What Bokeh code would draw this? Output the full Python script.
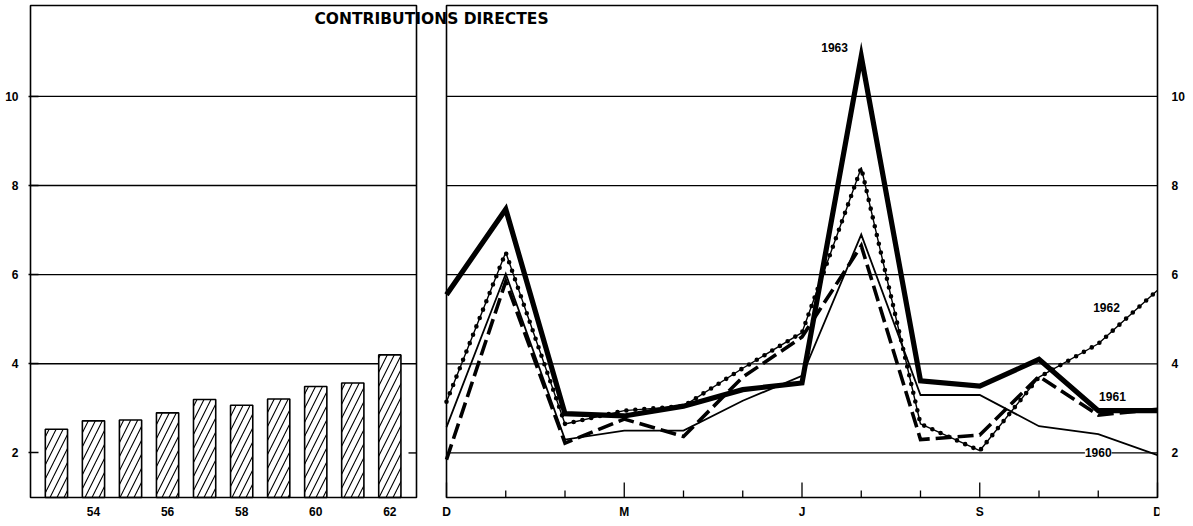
from bokeh.plotting import figure
from bokeh.models import Range1d, LinearAxis, FixedTicker, Label
from bokeh.core.properties import value
from bokeh.embed import file_html
from bokeh.resources import INLINE

# ---------------- data ----------------
BAR_YEARS = [53, 54, 55, 56, 57, 58, 59, 60, 61, 62]
BAR_VALUES = [2.53, 2.72, 2.74, 2.90, 3.20, 3.07, 3.21, 3.49, 3.57, 4.20]
YEAR_TICKS = [54, 56, 58, 60, 62]
YEAR_TICK_LABELS = ["54", "56", "58", "60", "62"]

MONTHS = list(range(13))
MONTH_TICKS = [0, 3, 6, 9, 12]
MONTH_TICK_LABELS = ["D", "M", "J", "S", "D"]
MONTH_MINOR_TICKS = [1, 2, 4, 5, 7, 8, 10, 11]

S1963 = [5.55, 7.47, 2.88, 2.83, 3.05, 3.42, 3.57, 10.9, 3.62, 3.50, 4.10, 2.95, 2.95]
S1962 = [3.15, 6.50, 2.65, 2.95, 3.05, 3.90, 4.70, 8.40, 2.65, 2.05, 3.70, 4.45, 5.65]
S1961 = [1.85, 5.85, 2.22, 2.76, 2.37, 3.70, 4.60, 6.65, 2.30, 2.40, 3.72, 2.85, 2.98]
S1960 = [2.58, 6.02, 2.30, 2.50, 2.50, 3.17, 3.73, 6.90, 3.30, 3.30, 2.60, 2.42, 1.95]

Y_TICKS = [2, 4, 6, 8, 10]
LEFT_GRID = [4, 6, 8, 10]
RIGHT_GRID = [2, 4, 6, 8, 10]
TITLE = "CONTRIBUTIONS DIRECTES"

# ---------------- layout (pixels) ----------------
PAD = 2                       # frame padding around panels
LEFT_W, GAP, RIGHT_W = 386, 30, 711
FRAME_W = PAD + LEFT_W + GAP + RIGHT_W + PAD
PANEL_H = 492
BELOW_H = 27                  # frame room under panels for the bottom labels
FRAME_H = PAD + PANEL_H + BELOW_H

YR_LO, YR_HI = 52.3, 62.72
MO_LO, MO_HI = 0, 12
Y_LO, Y_HI = 1.0, 12.04

ypp = (YR_HI - YR_LO) / LEFT_W               # years per px
mpp = (MO_HI - MO_LO) / RIGHT_W              # months per px
vpp = (Y_HI - Y_LO) / PANEL_H                # value units per px

years_range = Range1d(YR_LO - PAD * ypp, YR_LO - PAD * ypp + FRAME_W * ypp)
months_range = Range1d(MO_LO - (PAD + LEFT_W + GAP) * mpp, MO_HI + PAD * mpp)
y_range = Range1d(Y_LO - BELOW_H * vpp, Y_HI + PAD * vpp)

LABEL_Y = Y_LO - 14 * vpp
MAJOR_TICK = 15 * vpp
MINOR_TICK = 7 * vpp

FONT = "Liberation Sans"
INK = "black"

p = figure(width=1193, height=526, x_range=months_range, y_range=y_range,
           output_backend="svg", toolbar_location=None,
           x_axis_location=None, y_axis_location=None,
           min_border_left=28, min_border_right=1193 - 28 - FRAME_W,
           min_border_top=3, min_border_bottom=526 - 3 - FRAME_H,
           outline_line_color=None, background_fill_color="white", border_fill_color="white")
p.extra_x_ranges = {"years": years_range}
for g in p.grid:
    g.visible = False

lab_style = dict(major_label_text_font=FONT, major_label_text_font_style="bold",
                 major_label_text_font_size="12px", major_label_text_color=INK)

left_axis = LinearAxis(ticker=FixedTicker(ticks=Y_TICKS), axis_line_color=None,
                       major_tick_in=10, major_tick_out=0, major_tick_line_width=1.4,
                       major_tick_line_color=INK, minor_tick_line_color=None,
                       major_label_standoff=10, **lab_style)
p.add_layout(left_axis, "left")

right_axis = LinearAxis(ticker=FixedTicker(ticks=Y_TICKS), axis_line_color=None,
                        major_tick_line_color=None, minor_tick_line_color=None,
                        major_tick_in=0, major_tick_out=0,
                        major_label_standoff=12, **lab_style)
p.add_layout(right_axis, "right")

# gridlines (per panel)
p.segment(x0=[YR_LO] * len(LEFT_GRID), x1=[YR_HI] * len(LEFT_GRID), y0=LEFT_GRID, y1=LEFT_GRID,
          x_range_name="years", line_color=INK, line_width=1.4)
p.segment(x0=[MO_LO] * len(RIGHT_GRID), x1=[MO_HI] * len(RIGHT_GRID), y0=RIGHT_GRID, y1=RIGHT_GRID,
          line_color=INK, line_width=1.3)
# short tick at right of the left panel
p.segment(x0=[YR_HI - 8 * ypp], x1=[YR_HI], y0=[Y_TICKS[0]], y1=[Y_TICKS[0]],
          x_range_name="years", line_color=INK, line_width=1.4)

# month ticks on the bottom of the right panel
p.segment(x0=MONTH_TICKS, x1=MONTH_TICKS, y0=[Y_LO] * len(MONTH_TICKS),
          y1=[Y_LO + MAJOR_TICK] * len(MONTH_TICKS), line_color=INK, line_width=1.3)
p.segment(x0=MONTH_MINOR_TICKS, x1=MONTH_MINOR_TICKS, y0=[Y_LO] * len(MONTH_MINOR_TICKS),
          y1=[Y_LO + MINOR_TICK] * len(MONTH_MINOR_TICKS), line_color=INK, line_width=1.3)

# bars
p.vbar(x=BAR_YEARS, top=BAR_VALUES, bottom=Y_LO, width=0.6, x_range_name="years",
       fill_color="white", line_color=INK, line_width=1.6,
       hatch_pattern="/", hatch_color=INK, hatch_scale=14, hatch_weight=1.1)

# monthly lines
p.line(MONTHS, S1960, line_color=INK, line_width=1.8, line_join="miter")
p.line(MONTHS, S1961, line_color=INK, line_width=3.6, line_dash="16 6", line_join="miter")
p.line(MONTHS, S1962, line_color=INK, line_width=1.4, line_join="round")
p.line(MONTHS, S1962, line_color=INK, line_width=4.6, line_dash="0 9", line_cap="round")
p.line(MONTHS, S1963, line_color=INK, line_width=5.2, line_join="miter")

# panel frames
p.quad(left=[YR_LO], right=[YR_HI], bottom=[Y_LO], top=[Y_HI], x_range_name="years",
       fill_color=None, line_color=INK, line_width=1.6)
p.quad(left=[MO_LO], right=[MO_HI], bottom=[Y_LO], top=[Y_HI],
       fill_color=None, line_color=INK, line_width=1.6)

# bottom labels
p.text(x=YEAR_TICKS, y=[LABEL_Y] * len(YEAR_TICKS), text=YEAR_TICK_LABELS, x_range_name="years",
       text_font=value(FONT), text_font_style="bold", text_font_size="12px", text_color=INK,
       text_align="center", text_baseline="middle")
p.text(x=MONTH_TICKS, y=[LABEL_Y] * len(MONTH_TICKS), text=MONTH_TICK_LABELS,
       text_font=value(FONT), text_font_style="bold", text_font_size="12px", text_color=INK,
       text_align="center", text_baseline="middle")

# series labels
num_style = dict(text_font=FONT, text_font_style="bold", text_font_size="12px",
                 text_color=INK, text_align="center", text_baseline="middle")
p.add_layout(Label(x=6.55, y=11.09, text="1963", **num_style))
p.add_layout(Label(x=11.14, y=5.26, text="1962", **num_style))
p.add_layout(Label(x=11.24, y=3.26, text="1961", **num_style))
p.add_layout(Label(x=11.0, y=2.0, text="1960", background_fill_color="white", **num_style))

# title
p.add_layout(Label(x=MO_LO - (GAP / 2) * mpp, y=11.74, text=TITLE, text_font="DejaVu Sans",
                   text_font_style="bold", text_font_size="15.5px", text_color=INK,
                   text_align="center", text_baseline="middle"))

open("out.html", "w").write(file_html(p, INLINE))
